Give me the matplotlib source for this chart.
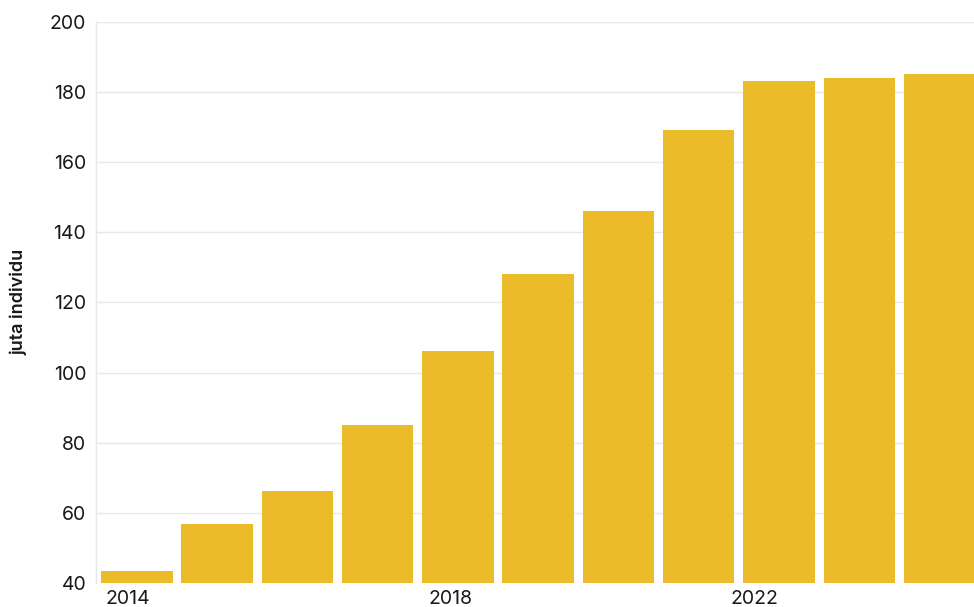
import matplotlib
matplotlib.use("Agg")
import matplotlib.pyplot as plt

years = [2014, 2015, 2016, 2017, 2018, 2019, 2020, 2021, 2022, 2023, 2024]
values = [43.5, 56.8, 66.2, 85.0, 106.0, 128.0, 146.0, 169.0, 183.0, 184.0, 185.0]
tick_years = [2014, 2018, 2022]
tick_labels = ["2014", "2018", "2022"]
y_ticks = [40, 60, 80, 100, 120, 140, 160, 180, 200]

plt.rcParams['font.family'] = ['Inter', 'DejaVu Sans']

fig = plt.figure(figsize=(9.74, 6.07), dpi=100)
ax = fig.add_axes([96/974, 24/607, 1 - 96/974, (583 - 21.7)/607])

ax.bar(years, values, width=0.89, color='#EBBB29', zorder=2)

ax.set_ylim(40, 200)
ax.set_xlim(2013.49, 2024.43)
ax.set_yticks(y_ticks)
ax.set_yticklabels([str(v) for v in y_ticks])
label_offsets = [-0.11, -0.09, -0.30]
ax.set_xticks([y + o for y, o in zip(tick_years, label_offsets)])
ax.set_xticklabels(tick_labels)

ax.grid(axis='y', color='#e8e8e8', linewidth=1, zorder=0)
ax.grid(axis='x', visible=False)
for s in ['top', 'right', 'bottom']:
    ax.spines[s].set_visible(False)
ax.spines['left'].set_color('#e8e8e8')
ax.spines['left'].set_linewidth(1)

ax.tick_params(axis='y', length=0, pad=7, labelsize=14, labelcolor='#1a1a1a')
ax.tick_params(axis='x', length=0, pad=5, labelsize=14, labelcolor='#1a1a1a')

ax.set_ylabel('juta individu', fontsize=13, fontweight='semibold', color='#1a1a1a', labelpad=16)

fig.savefig('out.png', dpi=100)
